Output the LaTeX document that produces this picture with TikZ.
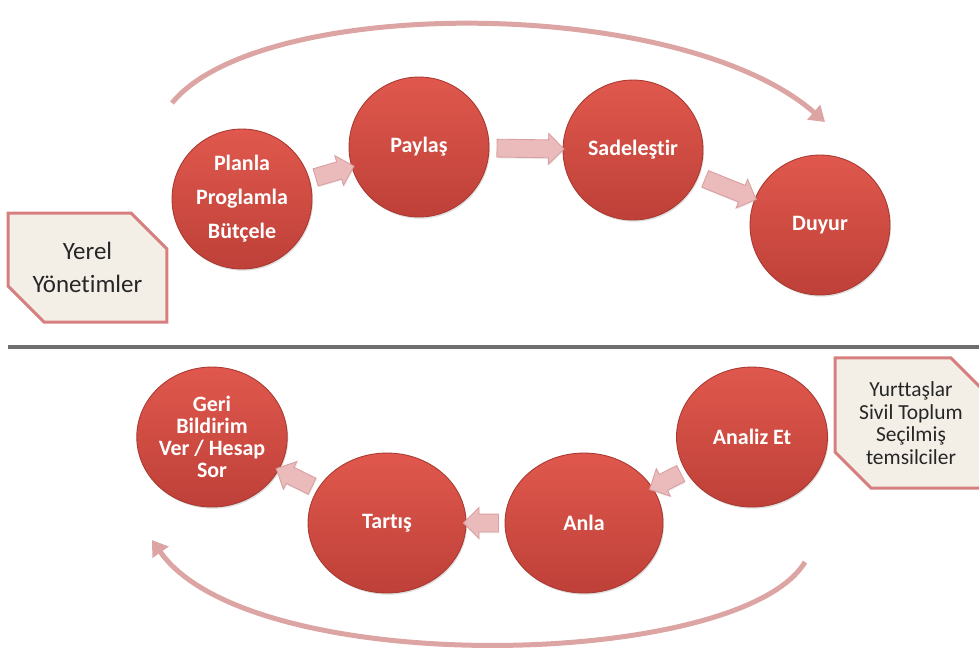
\documentclass[tikz,border=0pt]{standalone}
\usepackage{fontspec}
\setmainfont{Carlito}[Ligatures={NoCommon}]
\usetikzlibrary{shapes.geometric,shapes.arrows,shapes.misc,arrows.meta,shadows}

\definecolor{kirmiziust}{HTML}{E0584D}
\definecolor{kirmizialt}{HTML}{BE4038}
\definecolor{kenar}{HTML}{A93A31}
\definecolor{okpembe}{HTML}{EBBABA}
\definecolor{okkenar}{HTML}{D8A0A0}
\definecolor{yaypembe}{HTML}{DDA4A4}
\definecolor{kutuzemin}{HTML}{F3EFE7}
\definecolor{kutukenar}{HTML}{D77F7F}
\definecolor{cizgi}{HTML}{6E6E6E}

\tikzset{
  etapa/.style={ellipse, minimum width=2.8cm, minimum height=2.8cm, inner sep=0pt,
    top color=kirmiziust, bottom color=kirmizialt, draw=kenar, line width=0.5pt,
    drop shadow={opacity=0.25, shadow xshift=0.6pt, shadow yshift=-1pt},
    text=white, align=center, font=\bfseries\fontsize{12.5}{12.5}\selectfont},
  okblok/.style={single arrow, single arrow head extend=0.13cm, inner sep=0.17cm,
    fill=okpembe, draw=okkenar, line width=0.5pt,
    drop shadow={opacity=0.15, shadow xshift=0.4pt, shadow yshift=-0.8pt},
    sloped, allow upside down},
  notkutu/.style={chamfered rectangle, chamfered rectangle corners={north east,south west},
    chamfered rectangle xsep=0.36cm, chamfered rectangle ysep=0.36cm,
    fill=kutuzemin, draw=kutukenar, line width=0.06cm, align=center, text=black!85},
  buyukok/.style={yaypembe, line width=0.1cm, -{Triangle[width=0.38cm,length=0.3cm]}}
}

\begin{document}
\begin{tikzpicture}[x=0.02cm, y=-0.02cm]

  \useasboundingbox (0,0) rectangle (979,654);

  % --- Points ---
  \coordinate (ustbas) at (172,103);
  \coordinate (ustson) at (825,122);
  \coordinate (altbas) at (805,562);
  \coordinate (altson) at (152,540);
  \coordinate (cizsol) at (8,347);
  \coordinate (cizsag) at (979,347);

  % --- Big arcs ---
  \draw[buyukok] (ustbas) .. controls (260,-5) and (680,-5) .. (ustson);
  \draw[buyukok] (altbas) .. controls (740,670) and (250,680) .. (altson);

  % --- Separator ---
  \draw[cizgi, line width=0.09cm] (cizsol) -- (cizsag);

  % --- Upper row ---
  \node[etapa] (plan) at (242,199) {Planla\\[6.8pt]Proglamla\\[6.8pt]Bütçele};
  \node[etapa] (pay) at (419,147) {Paylaş};
  \node[etapa] (sad) at (633,150) {Sadeleştir};
  \node[etapa] (duy) at (820,225) {Duyur};

  % --- Lower row ---
  \node[etapa, minimum width=3.0cm] (ger) at (212,437) {Geri\\Bildirim\\Ver / Hesap\\Sor};
  \node[etapa, minimum width=3.16cm] (tar) at (387,523) {Tartış};
  \node[etapa, minimum width=3.16cm] (anl) at (584,523) {Anla};
  \node[etapa, minimum width=3.02cm] (ana) at (752,437) {Analiz Et};

  % --- Block arrows ---
  \path (plan) -- node[okblok, minimum height=0.8cm] (o1) {} (pay);
  \path (pay) -- node[okblok, minimum height=1.34cm] (o2) {} (sad);
  \path (sad) -- node[okblok, minimum height=1.1cm] (o3) {} (duy);
  \path (ana) -- node[okblok, minimum height=0.7cm] (o4) {} (anl);
  \path (anl) -- node[okblok, minimum height=0.7cm] (o5) {} (tar);
  \path (tar) -- node[okblok, minimum height=0.8cm] (o6) {} (ger);

  % --- Boxes ---
  \node[notkutu, minimum width=3.18cm, minimum height=2.18cm,
    font=\fontsize{14.2}{18.7}\selectfont] (yerel) at (87.5,267.5) {Yerel\\Yönetimler};
  \node[notkutu, minimum width=3.04cm, minimum height=2.32cm,
    font=\fontsize{12.2}{12.8}\selectfont] (yurt) at (911,423)
    {Yurttaşlar\\Sivil Toplum\\Seçilmiş\\temsilciler};

\end{tikzpicture}
\end{document}
